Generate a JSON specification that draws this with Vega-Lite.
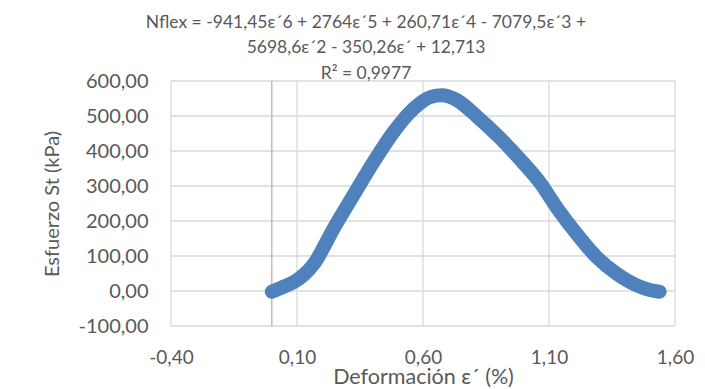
{
  "$schema": "https://vega.github.io/schema/vega-lite/v6.json",
  "autosize": {"type": "none"},
  "width": 504,
  "height": 245,
  "padding": {"left": 171, "top": 81, "right": 30, "bottom": 63},
  "background": "white",
  "config": {
    "locale": {"number": {"decimal": ",", "thousands": ".", "grouping": [3], "currency": ["", " €"], "minus": "-"}},
    "font": "Lato",
    "view": {"stroke": null},
    "axis": {"labelFont": "Lato", "titleFont": "Lato", "labelColor": "#595959", "titleColor": "#595959", "titleFontWeight": "normal", "labelOverlap": false}
  },
  "title": {
    "text": ["Nflex = -941,45ε´6 + 2764ε´5 + 260,71ε´4 - 7079,5ε´3 +", "5698,6ε´2 - 350,26ε´ + 12,713", "R² = 0,9977"],
    "font": "Lato",
    "fontSize": 17.5,
    "fontWeight": "normal",
    "color": "#595959",
    "anchor": "middle",
    "dx": -57,
    "offset": -11,
    "lineHeight": 25.5
  },
  "datasets": {
    "curve": [
      {"def": 0.0, "esf": -2},
      {"def": 0.04, "esf": 10},
      {"def": 0.088, "esf": 25.5},
      {"def": 0.13, "esf": 48},
      {"def": 0.167, "esf": 77.6},
      {"def": 0.247, "esf": 181},
      {"def": 0.326, "esf": 276},
      {"def": 0.405, "esf": 370},
      {"def": 0.484, "esf": 455},
      {"def": 0.563, "esf": 521},
      {"def": 0.629, "esf": 554},
      {"def": 0.675, "esf": 559},
      {"def": 0.735, "esf": 545},
      {"def": 0.815, "esf": 498},
      {"def": 0.907, "esf": 436},
      {"def": 0.999, "esf": 365},
      {"def": 1.065, "esf": 309},
      {"def": 1.131, "esf": 238},
      {"def": 1.21, "esf": 163},
      {"def": 1.29, "esf": 96},
      {"def": 1.369, "esf": 49},
      {"def": 1.448, "esf": 16},
      {"def": 1.5, "esf": 3},
      {"def": 1.539, "esf": -2}
    ],
    "xgrid": [{"def": -0.4}, {"def": 0.1}, {"def": 0.6}, {"def": 1.1}, {"def": 1.6}],
    "ygrid": [{"esf": -100}, {"esf": 0}, {"esf": 100}, {"esf": 200}, {"esf": 300}, {"esf": 400}, {"esf": 500}, {"esf": 600}],
    "yaxisline": [{"def": 0}]
  },
  "layer": [
    {
      "data": {"name": "xgrid"},
      "mark": {"type": "rule", "color": "#d9d9d9", "strokeWidth": 1.3},
      "encoding": {
        "x": {"field": "def", "type": "quantitative", "scale": {"domain": [-0.4, 1.6], "nice": false, "zero": false},
              "axis": {"title": "Deformación ε´ (%)", "values": [-0.4, 0.1, 0.6, 1.1, 1.6], "format": ".2f", "grid": false, "domain": false, "ticks": false, "labelFontSize": 19, "titleFontSize": 21.5, "labelPadding": 22, "titlePadding": -1, "labelFlush": false, "labelOverlap": false}},
        "y": {"datum": -100, "type": "quantitative", "scale": {"domain": [-100, 600], "nice": false},
              "axis": {"title": "Esfuerzo St (kPa)", "values": [-100, 0, 100, 200, 300, 400, 500, 600], "format": ".2f", "grid": false, "domain": false, "ticks": false, "labelFontSize": 20, "titleFontSize": 20, "labelPadding": 23, "titlePadding": 16, "labelOverlap": false}},
        "y2": {"datum": 600}
      }
    },
    {
      "data": {"name": "ygrid"},
      "mark": {"type": "rule", "color": "#d9d9d9", "strokeWidth": 1.3},
      "encoding": {
        "y": {"field": "esf", "type": "quantitative",
              "axis": {"title": "Esfuerzo St (kPa)", "values": [-100, 0, 100, 200, 300, 400, 500, 600], "format": ".2f", "grid": false, "domain": false, "ticks": false, "labelFontSize": 20, "titleFontSize": 20, "labelPadding": 23, "titlePadding": 16, "labelOverlap": false}},
        "x": {"datum": -0.4, "type": "quantitative",
              "axis": {"title": "Deformación ε´ (%)", "values": [-0.4, 0.1, 0.6, 1.1, 1.6], "format": ".2f", "grid": false, "domain": false, "ticks": false, "labelFontSize": 19, "titleFontSize": 21.5, "labelPadding": 22, "titlePadding": -1, "labelFlush": false, "labelOverlap": false}},
        "x2": {"datum": 1.6}
      }
    },
    {
      "data": {"name": "yaxisline"},
      "mark": {"type": "rule", "color": "#b3b3b3", "strokeWidth": 1.3},
      "encoding": {
        "x": {"field": "def", "type": "quantitative",
              "axis": {"title": "Deformación ε´ (%)", "values": [-0.4, 0.1, 0.6, 1.1, 1.6], "format": ".2f", "grid": false, "domain": false, "ticks": false, "labelFontSize": 19, "titleFontSize": 21.5, "labelPadding": 22, "titlePadding": -1, "labelFlush": false, "labelOverlap": false}},
        "y": {"datum": -100, "type": "quantitative",
              "axis": {"title": "Esfuerzo St (kPa)", "values": [-100, 0, 100, 200, 300, 400, 500, 600], "format": ".2f", "grid": false, "domain": false, "ticks": false, "labelFontSize": 20, "titleFontSize": 20, "labelPadding": 23, "titlePadding": 16, "labelOverlap": false}},
        "y2": {"datum": 600}
      }
    },
    {
      "data": {"name": "curve"},
      "mark": {"type": "line", "color": "#4f81bd", "strokeWidth": 14, "strokeCap": "round", "strokeJoin": "round", "interpolate": "monotone"},
      "encoding": {
        "x": {"field": "def", "type": "quantitative",
              "axis": {"title": "Deformación ε´ (%)", "values": [-0.4, 0.1, 0.6, 1.1, 1.6], "format": ".2f", "grid": false, "domain": false, "ticks": false, "labelFontSize": 19, "titleFontSize": 21.5, "labelPadding": 22, "titlePadding": -1, "labelFlush": false, "labelOverlap": false}},
        "y": {"field": "esf", "type": "quantitative",
              "axis": {"title": "Esfuerzo St (kPa)", "values": [-100, 0, 100, 200, 300, 400, 500, 600], "format": ".2f", "grid": false, "domain": false, "ticks": false, "labelFontSize": 20, "titleFontSize": 20, "labelPadding": 23, "titlePadding": 16, "labelOverlap": false}}
      }
    }
  ]
}
